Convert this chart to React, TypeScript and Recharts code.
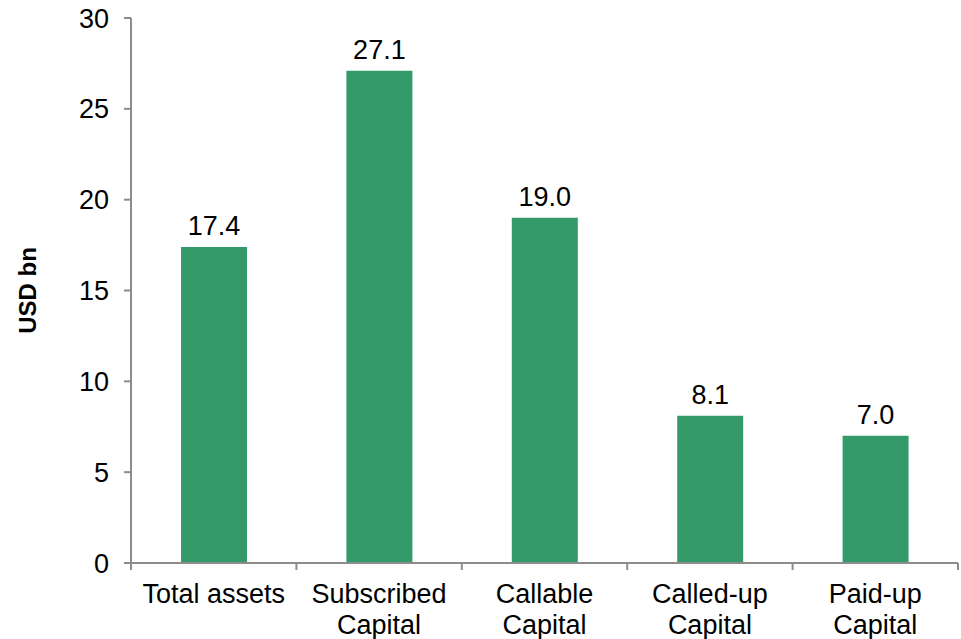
import { BarChart, Bar, XAxis, YAxis, LabelList } from "recharts";

const categories = ["Total assets", "Subscribed\nCapital", "Callable\nCapital", "Called-up\nCapital", "Paid-up\nCapital"];
const values = [17.4, 27.1, 19.0, 8.1, 7.0];
const yTicks = [0, 5, 10, 15, 20, 25, 30];

const data = categories.map((name, i) => ({ name, value: values[i] }));

const FONT = "'Liberation Sans', Arial, sans-serif";
const AXIS = "#8c8c8c";
const TICK_MARGIN = 14;

// category label + tick marks at the band edges (like Excel)
function CategoryTick(props: any) {
  const { x, y, payload, index, visibleTicksCount, width } = props;
  const band = width / visibleTicksCount;
  const axisY = y - TICK_MARGIN;
  const lines = String(payload.value).split("\n");
  return (
    <g>
      <line x1={x - band / 2} x2={x - band / 2} y1={axisY} y2={axisY + 7} stroke={AXIS} strokeWidth={2} />
      {index === visibleTicksCount - 1 && (
        <line x1={x + band / 2} x2={x + band / 2} y1={axisY} y2={axisY + 7} stroke={AXIS} strokeWidth={2} />
      )}
      <text x={x} y={axisY + 40} textAnchor="middle" fill="#000" fontSize={27} fontFamily={FONT}>
        {lines.map((l, i) => (
          <tspan key={i} x={x} dy={i === 0 ? 0 : 31}>{l}</tspan>
        ))}
      </text>
    </g>
  );
}

export default function App() {
  return (
    <div style={{ position: "absolute", left: 0, top: 0, background: "#fff" }}>
      <BarChart
        width={961}
        height={639}
        data={data}
        margin={{ top: 18, right: 3, left: 0, bottom: 0 }}
        barCategoryGap="30%"
      >
        <XAxis
          dataKey="name"
          height={76}
          stroke={AXIS}
          strokeWidth={2}
          tickLine={false}
          tickSize={0}
          tickMargin={TICK_MARGIN}
          interval={0}
          tick={<CategoryTick />}
        />
        <YAxis
          width={131}
          domain={[0, 30]}
          ticks={yTicks}
          stroke={AXIS}
          strokeWidth={2}
          tickSize={7}
          tickMargin={15}
          tick={{ fill: "#000", fontSize: 27, fontFamily: FONT }}
          label={{
            value: "USD bn",
            angle: -90,
            position: "insideLeft",
            dx: 22,
            style: { fontSize: 24, fontWeight: "bold", fontFamily: FONT, fill: "#000", textAnchor: "middle" },
          }}
        />
        <Bar dataKey="value" fill="#349a69" barSize={66} isAnimationActive={false}>
          <LabelList
            dataKey="value"
            position="top"
            offset={12}
            formatter={(v: any) => Number(v).toFixed(1)}
            style={{ fontSize: 27, fontFamily: FONT, fill: "#000" }}
          />
        </Bar>
      </BarChart>
    </div>
  );
}
